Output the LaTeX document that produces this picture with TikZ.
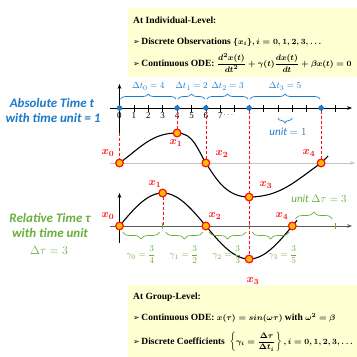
\documentclass[tikz,border=0pt]{standalone}
\usepackage{fontspec}
\usepackage{amsmath}
\setmainfont{Liberation Serif}
\newfontfamily\calfont{Carlito}
\newfontfamily\symfont{DejaVu Sans}
\usetikzlibrary{arrows.meta,decorations.pathreplacing}
\definecolor{tblue}{HTML}{1B7AC9}
\definecolor{tgreen}{HTML}{6AAE3E}
\definecolor{tred}{HTML}{FF1010}
\definecolor{tfill}{HTML}{FFC000}
\definecolor{boxfill}{HTML}{FFFFD3}
\newcommand\arw{{\symfont\fontsize{8}{8}\selectfont ➢}\,}
\newcommand\msize{\fontsize{8}{9}\selectfont}
\tikzset{
  obs/.style={circle, draw=tred, fill=tfill, line width=1.1pt, inner sep=0pt, minimum size=7.5pt},
  tdot/.style={circle, fill=tblue, inner sep=0pt, minimum size=5.5pt},
  guide/.style={tred, densely dashed, line width=0.4pt},
  curve/.style={line width=1.1pt, black},
  tbrace/.style={tblue, line width=0.7pt, decorate, decoration={brace, amplitude=5pt}},
  gbrace/.style={tgreen, line width=0.7pt, decorate, decoration={brace, amplitude=7pt}},
  xlab/.style={tred, font=\fontsize{11}{11}\selectfont\boldmath},
  boxtxt/.style={anchor=west, inner sep=0pt, font=\fontsize{9.5}{10}\selectfont\bfseries\boldmath},
  sidelab/.style={font=\calfont\fontsize{13}{13}\selectfont\bfseries\itshape},
  glab/.style={tgreen, font=\fontsize{9.5}{10}\selectfont}
}
\begin{document}
\begin{tikzpicture}[x=1pt, y=-1pt, font=\fontsize{8.5}{9}\selectfont]
  \useasboundingbox (0,0) rectangle (357,357);
  \def\ox{119.5}
  \def\ux{14.4}
  % yellow boxes
  \fill[boxfill] (128,8) rectangle (357,77);
  \fill[boxfill] (128,285) rectangle (357,357);
  \node[boxtxt] (ind) at (133,20) {At Individual-Level:};
  \node[boxtxt] (indobs) at (133,42) {\arw Discrete Observations {\msize$\{x_i\}, i = 0, 1, 2, 3, \dots$}};
  \node[boxtxt] (indode) at (133,63) {\arw Continuous ODE: {\msize$\dfrac{d^2x(t)}{dt^2} + \gamma(t)\dfrac{dx(t)}{dt} + \beta x(t) = 0$}};
  \node[boxtxt] (grp) at (133,297) {At Group-Level:};
  \node[boxtxt] (grpode) at (133,318) {\arw Continuous ODE: {\msize$x(\tau) = sin(\omega\tau)$} with {\msize$\omega^2 = \beta$}};
  \node[boxtxt] (grpcoef) at (133,342) {\arw Discrete Coefficients\enspace {\msize$\left\{\gamma_i = \dfrac{\Delta\tau}{\Delta t_i}\right\}, i = 0, 1, 2, 3, \dots$}};

  % side labels
  \node[sidelab, tblue] (abs1) at (52,103) {Absolute Time t};
  \node[sidelab, tblue] (abs2) at (53,118) {with time unit = 1};
  \node[sidelab, tgreen] (rel1) at (50,218) {Relative Time τ};
  \node[sidelab, tgreen] (rel2) at (50,233) {with time unit};
  \node[tgreen, font=\fontsize{13}{13}\selectfont] (rel3) at (49,250) {$\Delta\tau = 3$};

  % absolute time axis
  \draw[gray!45, line width=0.8pt, -{Stealth[length=5pt]}] (110,163) -- (355,163);
  \draw[line width=0.7pt, -{Stealth[length=5pt]}] (110,108) -- (352,108);
  \coordinate (vbot) at (\ox,133);
  \draw[line width=0.7pt, -{Stealth[length=5pt]}] (vbot) -- (\ox,84);
  \foreach \i in {1,...,15} {
    \draw[line width=0.7pt] (\ox+\i*\ux,104.5) -- (\ox+\i*\ux,111.5);
  }
  \foreach \i in {0,...,7} {
    \node[font=\fontsize{9}{9}\selectfont] at (\ox+\i*\ux,116) {\i};
  }
  \node at (229,115) {$\dots$};
  \foreach \i in {0,4,6,9,14} {
    \node[tdot] (t\i) at (\ox+\i*\ux,108) {};
  }
  \draw[tbrace] ([xshift=1pt,yshift=9pt]t0.center) -- ([xshift=-1pt,yshift=9pt]t4.center)
    node[midway, above=5pt, font=\fontsize{9.5}{9}\selectfont] {$\Delta t_0 = 4$};
  \draw[tbrace] ([xshift=1pt,yshift=9pt]t4.center) -- ([xshift=-1pt,yshift=9pt]t6.center)
    node[midway, above=5pt, font=\fontsize{9.5}{9}\selectfont] {$\Delta t_1 = 2$};
  \draw[tbrace] ([xshift=1pt,yshift=9pt]t6.center) -- ([xshift=-1pt,yshift=9pt]t9.center)
    node[midway, above=5pt, font=\fontsize{9.5}{9}\selectfont] {$\Delta t_2 = 3$};
  \draw[tbrace] ([xshift=1pt,yshift=9pt]t9.center) -- ([xshift=-1pt,yshift=9pt]t14.center)
    node[midway, above=5pt, font=\fontsize{9.5}{9}\selectfont] {$\Delta t_3 = 5$};
  \coordinate (u11) at (\ox+11*\ux,118);
  \coordinate (u12) at (\ox+12*\ux,118);
  \draw[tbrace, decoration={mirror}] (u11) -- (u12);
  \node[tblue, font=\calfont\fontsize{11}{11}\selectfont\itshape] (unit1) at (288,132) {unit $= 1$};

  % absolute observations
  \node[obs] (a0) at (\ox,163) {};
  \node[obs] (a1) at (\ox+4*\ux,133) {};
  \node[obs] (a2) at (\ox+6*\ux,163) {};
  \node[obs] (a3) at (\ox+9*\ux,197) {};
  \node[obs] (a4) at (\ox+14*\ux,163) {};
  \coordinate (a5) at (\ox+14*\ux+7,156);

  % relative time axis
  \draw[black!65, line width=0.8pt, -{Stealth[length=5pt]}] (110,226) -- (352,226);
  \draw[line width=0.7pt, -{Stealth[length=5pt]}] (\ox,243) -- (\ox,193);
  \foreach \k in {1,...,5} {
    \coordinate (g\k) at (\ox+\k*3*\ux,226);
    \draw[tgreen, line width=0.8pt] (\ox+\k*3*\ux,223) -- (\ox+\k*3*\ux,229);
  }
  \draw[curve] plot[domain=\ox:297, samples=80] (\x, {226-33*sin((\x-\ox)/(12*\ux)*360)});
  \node[obs] (r0) at (\ox,226) {};
  \node[obs] (r1) at (\ox+3*\ux,193) {};
  \node[obs] (r2) at (\ox+6*\ux,226) {};
  \node[obs] (r3) at (\ox+9*\ux,259) {};
  \node[obs] (r4) at (\ox+12*\ux,226) {};

  % dashed guides
  \draw[guide] (vbot) -- (a0);
  \draw[guide] (t4) -- (a1);
  \draw[guide] (t6) -- (a2);
  \draw[guide] (t9) -- (a3);
  \draw[guide] (t14) -- (a4);
  \draw[guide] (a3) -- (r3);
  \draw[guide] (r1) -- (g1);

  % absolute curve
  \draw[curve] (a0.center) to[out=36, in=180] (a1.center)
    to[out=0, in=122] (a2.center)
    to[out=-58, in=180] (a3.center)
    to[out=0, in=-145] (a4.center) -- (a5);
  \foreach \n in {0,...,4} {
    \node[obs] at (a\n) {};
    \node[obs] at (r\n) {};
  }

  % green braces
  \draw[gbrace, decoration={mirror}] ([xshift=3pt,yshift=-6pt]r0.center) -- ([xshift=-3pt,yshift=-6pt]g1);
  \draw[gbrace, decoration={mirror}] ([xshift=3pt,yshift=-6pt]g1) -- ([xshift=-3pt,yshift=-6pt]r2.center);
  \draw[gbrace, decoration={mirror}] ([xshift=3pt,yshift=-6pt]r2.center) -- ([xshift=-3pt,yshift=-6pt]g3);
  \draw[gbrace, decoration={mirror}] ([xshift=3pt,yshift=-6pt]g3) -- ([xshift=-3pt,yshift=-6pt]r4.center);
  \draw[gbrace] ([xshift=3pt,yshift=7pt]r4.center) -- ([xshift=-3pt,yshift=7pt]g5);
  \node[tgreen, font=\calfont\fontsize{11}{11}\selectfont\itshape] (unit3) at (319,199) {unit $\Delta\tau = 3$};
  \node[glab] (c0) at (141,255) {$\gamma_0 = \dfrac{3}{4}$};
  \node[glab] (c1) at (184,255) {$\gamma_1 = \dfrac{3}{2}$};
  \node[glab] (c2) at (227,255) {$\gamma_2 = \dfrac{3}{3}$};
  \node[glab] (c3) at (283,255) {$\gamma_3 = \dfrac{3}{5}$};

  % observation labels
  \node[xlab] (la0) at (108,153) {$x_0$};
  \node[xlab] (la1) at (176,143) {$x_1$};
  \node[xlab] (la2) at (222,154) {$x_2$};
  \node[xlab] (la3) at (266,185) {$x_3$};
  \node[xlab] (la4) at (309,153) {$x_4$};
  \node[xlab] (lr0) at (108,216) {$x_0$};
  \node[xlab] (lr1) at (155,184) {$x_1$};
  \node[xlab] (lr2) at (215,216) {$x_2$};
  \node[xlab] (lr3) at (253,281) {$x_3$};
  \node[xlab] (lr4) at (282,216) {$x_4$};
\end{tikzpicture}
\end{document}
